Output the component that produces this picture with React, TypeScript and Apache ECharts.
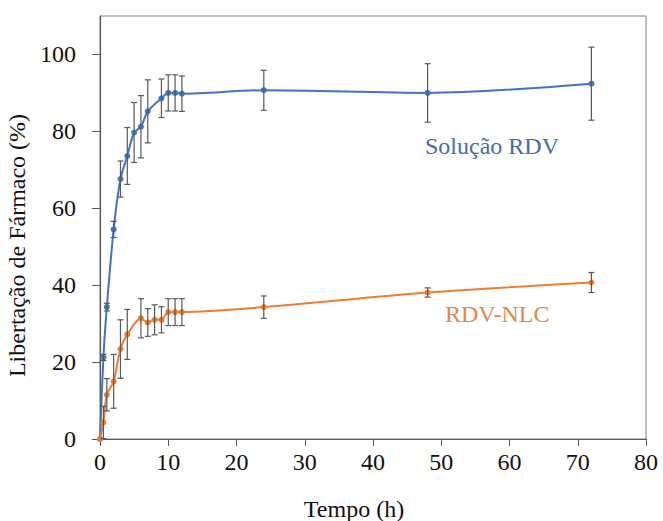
import React, { useEffect, useRef } from "react";
import * as echarts from "echarts";

const blueTime = [0, 0.5, 1, 2, 3, 4, 5, 6, 7, 9, 10, 11, 12, 24, 48, 72];
const blueMean = [0, 21.2, 34.3, 54.5, 67.6, 73.6, 79.7, 81.2, 85.2, 88.6, 90.0, 90.0, 89.8, 90.7, 90.0, 92.4];
const blueErr = [0, 0.8, 1.0, 2.1, 4.7, 7.4, 7.8, 8.1, 8.2, 5.0, 4.7, 4.7, 4.6, 5.2, 7.6, 9.5];

const orangeTime = [0, 0.5, 1, 2, 3, 4, 6, 7, 8, 9, 10, 11, 12, 24, 48, 72];
const orangeMean = [0, 4.3, 11.5, 15.0, 23.4, 27.2, 31.4, 30.3, 31.0, 31.0, 33.0, 33.0, 33.0, 34.3, 38.1, 40.7];
const orangeErr = [0, 4.2, 4.2, 7.0, 7.6, 6.5, 5.1, 3.6, 3.9, 3.4, 3.5, 3.5, 3.5, 2.9, 1.2, 2.6];

const yTicks = [0, 20, 40, 60, 80, 100];
const xTicks = [0, 10, 20, 30, 40, 50, 60, 70, 80];

const blueName = "Solução RDV";
const orangeName = "RDV-NLC";

const BLUE = "#4472C4";
const ORANGE = "#ED7D31";
const FONT = "'Liberation Serif', 'Times New Roman', serif";

function errorRender(params: any, api: any) {
  const x = api.value(0);
  const lo = api.value(1);
  const hi = api.value(2);
  const p1 = api.coord([x, hi]);
  const p2 = api.coord([x, lo]);
  const w = 3;
  const style = { stroke: "#595959", lineWidth: 1.2 };
  return {
    type: "group",
    children: [
      { type: "line", shape: { x1: p1[0], y1: p1[1], x2: p2[0], y2: p2[1] }, style },
      { type: "line", shape: { x1: p1[0] - w, y1: p1[1], x2: p1[0] + w, y2: p1[1] }, style },
      { type: "line", shape: { x1: p2[0] - w, y1: p2[1], x2: p2[0] + w, y2: p2[1] }, style },
    ],
  };
}

export default function App() {
  const ref = useRef<HTMLDivElement>(null);
  useEffect(() => {
    if (!ref.current) return;
    const chart = echarts.init(ref.current, undefined, { renderer: "svg" });
    const blueData = blueTime.map((t, i) => [t, blueMean[i]]);
    const orangeData = orangeTime.map((t, i) => [t, orangeMean[i]]);
    const blueErrData = blueTime
      .map((t, i) => [t, blueMean[i] - blueErr[i], blueMean[i] + blueErr[i]])
      .filter((d, i) => blueErr[i] > 0);
    const orangeErrData = orangeTime
      .map((t, i) => [t, orangeMean[i] - orangeErr[i], orangeMean[i] + orangeErr[i]])
      .filter((d, i) => orangeErr[i] > 0);

    chart.setOption({
      animation: false,
      backgroundColor: "#ffffff",
      grid: {
        left: 100,
        right: 17,
        top: 16,
        bottom: 82,
        containLabel: false,
        outerBoundsMode: "none",
        show: true,
        borderColor: "#808080",
        borderWidth: 1,
      },
      xAxis: {
        type: "value",
        min: 0,
        max: 80,
        interval: 10,
        name: "Tempo (h)",
        nameLocation: "middle",
        nameGap: 58,
        nameTextStyle: { fontFamily: FONT, fontSize: 24, color: "#111", padding: [0, 38, 0, 0] },
        axisLine: { show: true, lineStyle: { color: "#595959", width: 1.2 } },
        axisTick: { show: true, length: 7, inside: false, lineStyle: { color: "#595959" } },
        axisLabel: {
          fontFamily: FONT,
          fontSize: 24,
          color: "#111",
          margin: 11,
          customValues: xTicks,
        },
        splitLine: { show: false },
      },
      yAxis: {
        type: "value",
        min: 0,
        max: 110,
        interval: 20,
        name: "Libertação de Fármaco (%)",
        nameLocation: "middle",
        nameGap: 60,
        nameRotate: 90,
        nameTextStyle: { fontFamily: FONT, fontSize: 24, color: "#111", padding: [0, 36, 0, 0] },
        axisLine: { show: true, lineStyle: { color: "#595959", width: 1.2 } },
        axisTick: { show: true, length: 8, inside: false, customValues: yTicks, lineStyle: { color: "#595959" } },
        axisLabel: {
          fontFamily: FONT,
          fontSize: 24,
          color: "#111",
          margin: 24,
          customValues: yTicks,
        },
        splitLine: { show: false },
      },
      series: [
        {
          name: blueName,
          type: "line",
          data: blueData,
          smooth: 0.3,
          symbol: "circle",
          symbolSize: 6,
          lineStyle: { color: BLUE, width: 2 },
          itemStyle: { color: BLUE },
          z: 3,
        },
        {
          name: orangeName,
          type: "line",
          data: orangeData,
          smooth: 0.3,
          symbol: "circle",
          symbolSize: 6,
          lineStyle: { color: ORANGE, width: 2 },
          itemStyle: { color: ORANGE },
          z: 3,
        },
        {
          type: "custom",
          name: blueName + " erro",
          data: blueErrData,
          renderItem: errorRender,
          encode: { x: 0, y: [1, 2] },
          z: 4,
        },
        {
          type: "custom",
          name: orangeName + " erro",
          data: orangeErrData,
          renderItem: errorRender,
          encode: { x: 0, y: [1, 2] },
          z: 4,
        },
      ],
      graphic: [
        {
          type: "text",
          left: 425,
          top: 134,
          style: { text: blueName, fontFamily: FONT, fontSize: 24, fill: "#4A6AAE" },
        },
        {
          type: "text",
          left: 445,
          top: 302,
          style: { text: orangeName, fontFamily: FONT, fontSize: 24, fill: "#DD8A4C" },
        },
      ],
    });
    return () => chart.dispose();
  }, []);
  return <div ref={ref} style={{ width: 663, height: 521, position: "absolute", left: 0, top: 0 }} />;
}
